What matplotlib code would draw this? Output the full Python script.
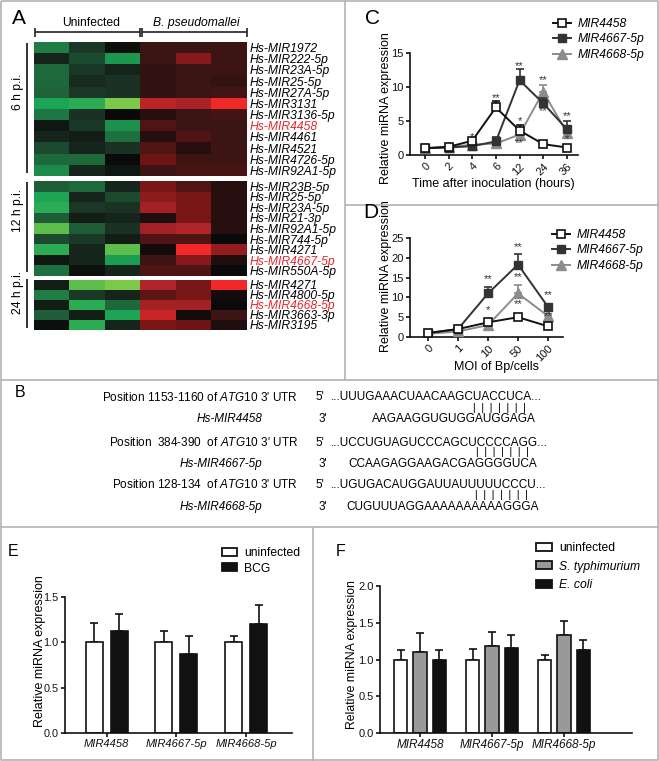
import numpy as np
import matplotlib
matplotlib.use('Agg')
import matplotlib.pyplot as plt
from matplotlib.colors import LinearSegmentedColormap
from matplotlib.lines import Line2D
from matplotlib.patches import Patch
from matplotlib.ticker import FormatStrFormatter

plt.rcParams['font.family'] = ['Liberation Sans', 'DejaVu Sans']
plt.rcParams['mathtext.fontset'] = 'custom'
plt.rcParams['mathtext.rm'] = 'Liberation Sans'
plt.rcParams['mathtext.it'] = 'Liberation Sans:italic'

# ---------------- data ----------------
hm_columns = ['U1', 'U2', 'U3', 'B1', 'B2', 'B3']
hm6_labels = ['Hs-MIR1972', 'Hs-MIR222-5p', 'Hs-MIR23A-5p', 'Hs-MIR25-5p', 'Hs-MIR27A-5p',
              'Hs-MIR3131', 'Hs-MIR3136-5p', 'Hs-MIR4458', 'Hs-MIR4461', 'Hs-MIR4521',
              'Hs-MIR4726-5p', 'Hs-MIR92A1-5p']
hm6 = [
    [-1.8, -0.7, -0.1, 0.5, 0.5, 0.5],
    [-0.4, -1.0, -2.2, 0.5, 1.6, 0.5],
    [-1.5, -0.7, -0.4, 0.4, 0.5, 0.5],
    [-1.5, -0.5, -0.6, 0.4, 0.5, 0.4],
    [-1.4, -0.7, -0.6, 0.4, 0.5, 0.6],
    [-2.4, -2.5, -3.0, 2.3, 2.1, 3.0],
    [-1.7, -0.6, 0.0, 0.3, 0.5, 0.6],
    [-0.2, -0.7, -2.1, 0.8, 0.5, 0.5],
    [-0.4, -0.3, -1.6, 0.3, 0.8, 0.5],
    [-1.0, -0.4, -0.6, 0.8, 0.3, 0.5],
    [-1.5, -1.5, 0.0, 1.2, 0.5, 0.5],
    [-2.0, -0.4, -0.2, 0.5, 0.7, 0.7],
]
hm12_labels = ['Hs-MIR23B-5p', 'Hs-MIR25-5p', 'Hs-MIR23A-5p', 'Hs-MIR21-3p', 'Hs-MIR92A1-5p',
               'Hs-MIR744-5p', 'Hs-MIR4271', 'Hs-MIR4667-5p', 'Hs-MIR550A-5p']
hm12 = [
    [-1.3, -1.5, -0.4, 1.4, 0.8, 0.3],
    [-2.4, -0.4, -1.0, 1.7, 1.4, 0.3],
    [-2.5, -0.7, -0.6, 2.0, 1.4, 0.3],
    [-1.3, -0.3, -0.4, 0.2, 1.4, 0.3],
    [-2.8, -1.3, -0.6, 2.0, 2.2, 0.3],
    [-1.0, -0.7, -0.3, 0.8, 0.8, 0.0],
    [-2.5, -0.4, -2.8, 0.1, 3.0, 1.8],
    [-0.2, -0.4, -2.3, 0.5, 1.6, 0.2],
    [-1.6, -0.1, -0.4, 0.8, 0.8, 0.0],
]
hm24_labels = ['Hs-MIR4271', 'Hs-MIR4800-5p', 'Hs-MIR4668-5p', 'Hs-MIR3663-3p', 'Hs-MIR3195']
hm24 = [
    [-0.3, -2.8, -3.0, 2.2, 1.4, 3.0],
    [-1.8, -0.7, -0.4, 1.0, 1.4, 0.1],
    [-0.3, -2.5, -1.5, 2.0, 2.0, 0.0],
    [-1.3, -0.3, -2.4, 2.5, 0.1, 0.5],
    [-0.1, -2.5, -0.4, 1.4, 1.2, 0.2],
]
highlight = ['Hs-MIR4458', 'Hs-MIR4667-5p', 'Hs-MIR4668-5p']

series_names = ['MIR4458', 'MIR4667-5p', 'MIR4668-5p']

time_labels = ['0', '2', '4', '6', '12', '24', '36']
c_4458 = [1.0, 1.2, 2.1, 7.0, 3.6, 1.6, 1.1]
c_4458_err = [0.1, 0.15, 0.3, 0.9, 0.8, 0.3, 0.2]
c_4667 = [1.0, 1.1, 1.3, 2.0, 11.0, 7.6, 3.8]
c_4667_err = [0.1, 0.1, 0.2, 0.6, 1.6, 0.8, 1.2]
c_4668 = [1.0, 1.2, 1.5, 1.7, 3.0, 9.3, 3.3]
c_4668_err = [0.1, 0.1, 0.2, 0.3, 0.4, 1.0, 0.6]
c_stars = [(2, 2.7, '*'), (3, 8.3, '**'), (4, 13.1, '**'), (4, 5.0, '*'), (4, 1.7, '**'),
           (5, 11.0, '**'), (5, 6.5, '**'), (6, 5.7, '**'), (6, 2.3, '*')]

moi_labels = ['0', '1', '10', '50', '100']
d_4458 = [1.0, 2.0, 3.7, 5.0, 2.7]
d_4458_err = [0.1, 0.2, 0.4, 0.5, 0.4]
d_4667 = [1.0, 2.0, 11.0, 18.3, 7.6]
d_4667_err = [0.1, 0.2, 1.6, 2.6, 0.8]
d_4668 = [0.8, 1.4, 3.0, 11.0, 5.3]
d_4668_err = [0.1, 0.2, 0.3, 2.2, 0.5]
d_stars = [(2, 14.7, '**'), (2, 6.7, '*'), (2, 2.5, '**'), (3, 22.8, '**'), (3, 15.2, '**'),
           (3, 8.2, '**'), (4, 10.5, '**'), (4, 5.4, '**')]

bar_groups = ['MIR4458', 'MIR4667-5p', 'MIR4668-5p']
e_uninf = [1.0, 1.0, 1.0]
e_uninf_err = [0.21, 0.12, 0.065]
e_bcg = [1.12, 0.87, 1.2]
e_bcg_err = [0.19, 0.205, 0.21]

f_uninf = [1.0, 1.0, 1.0]
f_uninf_err = [0.13, 0.14, 0.065]
f_styph = [1.10, 1.18, 1.33]
f_styph_err = [0.26, 0.19, 0.20]
f_ecoli = [0.99, 1.15, 1.125]
f_ecoli_err = [0.14, 0.19, 0.135]

# ---------------- figure ----------------
W, H = 659, 761
fig = plt.figure(figsize=(W / 100, H / 100), dpi=100)


def rect(l, t, r, b):
    return [l / W, 1 - b / H, (r - l) / W, (b - t) / H]


def fx(x):
    return x / W


def fy(y):
    return 1 - y / H


def fline(xs, ys, color='#222222', lw=1.2):
    fig.add_artist(Line2D([fx(v) for v in xs], [fy(v) for v in ys], color=color, lw=lw,
                          solid_capstyle='butt'))


# panel borders
bc = '#b3b3b3'
blw = 1.2
fline([1, 658, 658, 1, 1], [1, 1, 760, 760, 1], bc, blw)
fline([345, 345], [0, 380], bc, blw)
fline([345, 659], [205, 205], bc, blw)
fline([0, 659], [380, 380], bc, blw)
fline([0, 659], [527, 527], bc, blw)
fline([313, 313], [527, 761], bc, blw)

# panel letters
fig.text(fx(12), fy(18), 'A', fontsize=15, va='center', ha='left')
fig.text(fx(365), fy(18), 'C', fontsize=15, va='center', ha='left')
fig.text(fx(363), fy(212), 'D', fontsize=15, va='center', ha='left')
fig.text(fx(15), fy(392), 'B', fontsize=11.5, va='center', ha='left')
fig.text(fx(8), fy(552), 'E', fontsize=11.5, va='center', ha='left')
fig.text(fx(336), fy(552), 'F', fontsize=11.5, va='center', ha='left')

# ---------------- Panel A heatmap ----------------
nodes = [(-3, '#7cc94a'), (-2.4, '#1aa555'), (-1.5, '#1f6a3d'), (-0.6, '#1b3224'),
         (0, '#0a0a0a'), (0.5, '#3c1414'), (1.4, '#7a1616'), (2.2, '#b0242a'), (3, '#f02828')]
cmap = LinearSegmentedColormap.from_list('gbr', [((v + 3) / 6, c) for v, c in nodes])

blocks = [(hm6, hm6_labels, (34, 42, 247, 176)),
          (hm12, hm12_labels, (34, 181, 247, 276)),
          (hm24, hm24_labels, (34, 280, 247, 330))]
for vals, labels, (l, t, r, b) in blocks:
    ax = fig.add_axes(rect(l, t, r, b))
    ax.imshow(np.array(vals), cmap=cmap, vmin=-3, vmax=3, aspect='auto', interpolation='nearest')
    ax.set_xticks([])
    ax.set_yticks(range(len(labels)))
    ax.set_yticklabels(labels, fontsize=8.7, style='italic')
    ax.yaxis.tick_right()
    ax.tick_params(axis='y', length=0, pad=2.2)
    for tl in ax.get_yticklabels():
        if tl.get_text() in highlight:
            tl.set_color('#e8262b')
    for s in ax.spines.values():
        s.set_visible(False)

# bracket
fline([35, 140], [32, 32])
fline([142, 247], [32, 32])
for xv in (35, 140, 142, 247):
    fline([xv, xv], [27.5, 36.5])
fig.text(fx(91), fy(23), 'Uninfected', fontsize=8.7, ha='center', va='center')
fig.text(fx(196), fy(23), 'B. pseudomallei', fontsize=8.7, ha='center', va='center', style='italic')

# block labels
for txt, yc, (y0, y1) in [('6 h p.i.', 92, (43, 173)), ('12 h p.i.', 210, (182, 272)),
                          ('24 h p.i.', 292, (279, 328))]:
    fig.text(fx(18), fy(yc), txt, rotation=90, fontsize=8.7, ha='center', va='center')
    fline([27, 27], [y0, y1], lw=1.3)

# ---------------- helpers for line panels ----------------
def style_axes(ax, lw=1.2, labelsize=8):
    for s in ['top', 'right']:
        ax.spines[s].set_visible(False)
    for s in ['left', 'bottom']:
        ax.spines[s].set_linewidth(lw)
        ax.spines[s].set_color('#111111')
    ax.tick_params(direction='out', length=3, width=lw, labelsize=labelsize, pad=1.5,
                   colors='#111111')


def lbl_coords(box, x, y):
    l, t, r, b = box
    return (x - l) / (r - l), (b - y) / (b - t)


line_styles = [
    dict(color='#111111', marker='s', mfc='white', mec='#111111', ms=5.5, mew=1.2, lw=1.4),
    dict(color='#333333', marker='s', mfc='#333333', mec='#333333', ms=6, mew=1, lw=1.4),
    dict(color='#8c8c8c', marker='^', mfc='#8c8c8c', mec='#8c8c8c', ms=6.5, mew=1, lw=1.4),
]


def line_panel(box, labels, series, errs, stars, ylim, yticks, xlabel, ylabel_y, xlabel_x,
               xlabel_top, xlim, legend_anchor):
    ax = fig.add_axes(rect(*box))
    style_axes(ax)
    x = np.arange(len(labels))
    order = [2, 1, 0]
    handles = [None] * 3
    for i in order:
        st = line_styles[i]
        ax.errorbar(x, series[i], yerr=[np.zeros(len(x)), errs[i]], color=st['color'],
                    lw=0, elinewidth=1.2, capsize=3, capthick=1.2, zorder=2 + (2 - i))
        h, = ax.plot(x, series[i], zorder=3 + (2 - i), **st)
        handles[i] = h
    for xi, yv, s in stars:
        ax.text(xi, yv, s, ha='center', va='center', fontsize=8, color='#333333')
    ax.set_xlim(*xlim)
    ax.set_ylim(*ylim)
    ax.set_yticks(yticks)
    ax.set_xticks(x)
    ax.set_xticklabels(labels, rotation=45, ha='right', va='top', rotation_mode='anchor')
    ax.set_ylabel('Relative miRNA expression', fontsize=9)
    ax.yaxis.set_label_coords(*lbl_coords(box, 392, ylabel_y))
    ax.set_xlabel(xlabel, fontsize=9)
    ax.xaxis.set_label_coords(*lbl_coords(box, xlabel_x, xlabel_top))
    ax.legend(handles, series_names, loc='upper left',
              bbox_to_anchor=(fx(legend_anchor[0]), fy(legend_anchor[1])),
              bbox_transform=fig.transFigure, frameon=False,
              prop={'style': 'italic', 'size': 8.7}, handlelength=1.5, handletextpad=0.55,
              labelspacing=0.28, borderpad=0, borderaxespad=0)
    return ax


line_panel((410, 53, 578, 155), time_labels, [c_4458, c_4667, c_4668],
           [c_4458_err, c_4667_err, c_4668_err], c_stars, (0, 15), [0, 5, 10, 15],
           'Time after inoculation (hours)', 108, 493, 178, (-0.63, 6.47), (553, 18))

line_panel((410, 238, 563, 337), moi_labels, [d_4458, d_4667, d_4668],
           [d_4458_err, d_4667_err, d_4668_err], d_stars, (0, 25), [0, 5, 10, 15, 20, 25],
           'MOI of Bp/cells', 276, 497, 361, (-0.6, 4.5), (552, 229))

# ---------------- Panel B ----------------
bfs = 8.5
rows_pos = [
    (397, r"Position 1153-1160 of $\it{ATG10}$ 3' UTR", "5'", "...UUUGAAACUAACAAGCUACCUCA...", 331),
    (443, r"Position  384-390  of $\it{ATG10}$ 3' UTR", "5'", "...UCCUGUAGUCCCAGCUCCCCAGG...", 331),
    (485, r"Position 128-134  of $\it{ATG10}$ 3' UTR", "5'", "...UGUGACAUGGAUUAUUUUUCCCU...", 331),
]
rows_mir = [
    (419, 'Hs-MIR4458', "3'", 'AAGAAGGUGUGGAUGGAGA', 372),
    (464, 'Hs-MIR4667-5p', "3'", 'CCAAGAGGAAGACGAGGGGUCA', 348),
    (507, 'Hs-MIR4668-5p', "3'", 'CUGUUUAGGAAAAAAAAAAGGGA', 346),
]
pair_rows = [(408, 473), (452, 476), (495, 475)]
for y, lab, end, seq, sx in rows_pos:
    fig.text(fx(298), fy(y), lab, fontsize=bfs, ha='right', va='center')
    fig.text(fx(315), fy(y), end, fontsize=bfs, ha='left', va='center')
    fig.text(fx(sx), fy(y), seq, fontsize=bfs, ha='left', va='center')
for y, lab, end, seq, sx in rows_mir:
    fig.text(fx(262), fy(y), lab, fontsize=bfs, ha='right', va='center', style='italic')
    fig.text(fx(319), fy(y), end, fontsize=bfs, ha='left', va='center')
    fig.text(fx(sx), fy(y), seq, fontsize=bfs, ha='left', va='center')
for y, x0 in pair_rows:
    fig.text(fx(x0), fy(y), '|  |  |  |  |  |  |', fontsize=7.5, ha='left', va='center')

# ---------------- Panel E ----------------
boxE = (65, 597, 292, 733)
axE = fig.add_axes(rect(*boxE))
style_axes(axE, labelsize=7.8)
xg = np.arange(len(bar_groups))
wE, oE = 0.245, 0.18
axE.bar(xg - oE, e_uninf, wE, color='white', edgecolor='#111111', lw=1.2, zorder=2)
axE.bar(xg + oE, e_bcg, wE, color='#111111', edgecolor='#111111', lw=1.2, zorder=2)
axE.errorbar(xg - oE, e_uninf, yerr=[np.zeros(3), e_uninf_err], fmt='none', ecolor='#111111',
             elinewidth=1.2, capsize=3, capthick=1.2, zorder=1)
axE.errorbar(xg + oE, e_bcg, yerr=[np.zeros(3), e_bcg_err], fmt='none', ecolor='#111111',
             elinewidth=1.2, capsize=3, capthick=1.2, zorder=1)
axE.set_xlim(-0.6, 2.66)
axE.set_ylim(0, 1.5)
axE.set_yticks([0, 0.5, 1.0, 1.5])
axE.yaxis.set_major_formatter(FormatStrFormatter('%.1f'))
axE.set_xticks(xg)
axE.set_xticklabels(bar_groups, style='italic', fontsize=8)
axE.set_ylabel('Relative miRNA expression', fontsize=9)
axE.yaxis.set_label_coords(*lbl_coords(boxE, 46, 651))
axE.legend(handles=[Patch(facecolor='white', edgecolor='#111111', lw=1.3),
                    Patch(facecolor='#111111', edgecolor='#111111', lw=1.3)],
           labels=['uninfected', 'BCG'], loc='upper left',
           bbox_to_anchor=(fx(222), fy(547)), bbox_transform=fig.transFigure, frameon=False,
           fontsize=8.7, handlelength=1.25, handleheight=0.65, handletextpad=0.6,
           labelspacing=0.3, borderpad=0, borderaxespad=0)

# ---------------- Panel F ----------------
boxF = (380, 586, 632, 733)
axF = fig.add_axes(rect(*boxF))
style_axes(axF, labelsize=8)
wF, oF = 0.19, 0.27
for off, vals, errs, col in [(-oF, f_uninf, f_uninf_err, 'white'),
                             (0, f_styph, f_styph_err, '#999999'),
                             (oF, f_ecoli, f_ecoli_err, '#111111')]:
    axF.bar(xg + off, vals, wF, color=col, edgecolor='#111111', lw=1.2, zorder=2)
    axF.errorbar(xg + off, vals, yerr=[np.zeros(3), errs], fmt='none', ecolor='#111111',
                 elinewidth=1.2, capsize=3, capthick=1.2, zorder=1)
axF.set_xlim(-0.556, 2.944)
axF.set_ylim(0, 2.0)
axF.set_yticks([0, 0.5, 1.0, 1.5, 2.0])
axF.yaxis.set_major_formatter(FormatStrFormatter('%.1f'))
axF.set_xticks(xg)
axF.set_xticklabels(bar_groups, style='italic', fontsize=8.5)
axF.set_ylabel('Relative miRNA expression', fontsize=8.8)
axF.yaxis.set_label_coords(*lbl_coords(boxF, 358, 655))
legF = axF.legend(handles=[Patch(facecolor='white', edgecolor='#111111', lw=1.3),
                           Patch(facecolor='#999999', edgecolor='#111111', lw=1.3),
                           Patch(facecolor='#111111', edgecolor='#111111', lw=1.3)],
                  labels=['uninfected', 'S. typhimurium', 'E. coli'], loc='upper left',
                  bbox_to_anchor=(fx(536), fy(542)), bbox_transform=fig.transFigure,
                  frameon=False, fontsize=8.7, handlelength=1.3, handleheight=0.65,
                  handletextpad=0.6, labelspacing=0.55, borderpad=0, borderaxespad=0)
for t in legF.get_texts()[1:]:
    t.set_style('italic')

fig.savefig('out.png', dpi=100, facecolor='white')
